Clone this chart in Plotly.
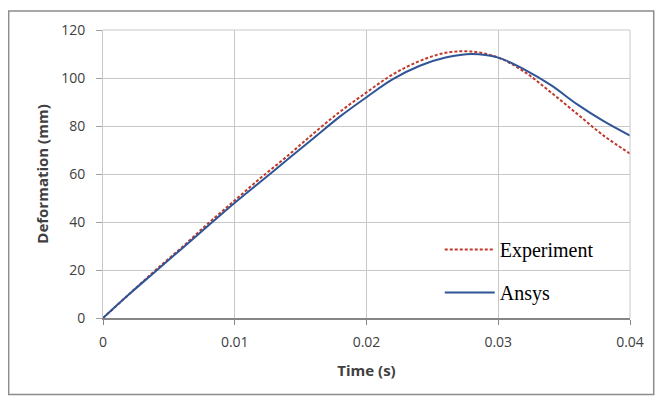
import plotly.graph_objects as go

time_s = [0, 0.002, 0.004, 0.006, 0.008, 0.010, 0.012, 0.014, 0.016, 0.018, 0.020,
          0.022, 0.024, 0.026, 0.028, 0.030, 0.032, 0.034, 0.036, 0.038, 0.040]
ansys = [0, 10, 19.5, 29, 38.5, 48, 57, 66, 75, 84, 92,
         99.5, 105, 108.5, 110, 108.5, 103.5, 97, 89, 82, 76]
experiment = [0, 10, 20, 29.5, 39.5, 49, 58.5, 67.5, 77, 86, 94,
              101.5, 107, 110.5, 111, 108.5, 102.5, 94, 85, 76, 68.5]

x_ticks = [0, 0.01, 0.02, 0.03, 0.04]
x_labels = ["0", "0.01", "0.02", "0.03", "0.04"]
y_ticks = [0, 20, 40, 60, 80, 100, 120]

fig = go.Figure()
fig.add_trace(go.Scatter(x=time_s, y=experiment, name="Experiment", mode="lines",
                         legendgroup="e",
                         line=dict(color="#C0392B", width=2, dash="3px,2px", shape="spline")))
fig.add_trace(go.Scatter(x=time_s, y=ansys, name="Ansys", mode="lines",
                         legendgroup="a",
                         line=dict(color="#2F5597", width=2, shape="spline")))

axis_font = dict(family="Open Sans, Liberation Sans, sans-serif", size=14, color="#404040")
title_font = dict(family="Open Sans, sans-serif", size=15, color="#404040")
fig.update_layout(
    width=655, height=395,
    margin=dict(l=95, r=33, t=20, b=85),
    paper_bgcolor="white", plot_bgcolor="white",
    showlegend=True,
    legend=dict(x=0.639, y=0.163, xanchor="left", yanchor="middle",
                font=dict(family="Liberation Serif, Times New Roman, serif", size=20, color="black"),
                bgcolor="rgba(0,0,0,0)", tracegroupgap=14, itemwidth=50),
    xaxis=dict(range=[0, 0.04], tickvals=x_ticks, ticktext=x_labels, showgrid=True,
               gridcolor="#C8C8C8", gridwidth=1, zeroline=False,
               showline=True, linecolor="#868686", linewidth=1.5,
               ticks="outside", ticklen=5, tickcolor="#868686",
               ticklabelstandoff=5,
               tickfont=axis_font,
               title=dict(text="<b>Time (s)</b>", font=title_font, standoff=16)),
    yaxis=dict(range=[0, 120], tickvals=y_ticks, showgrid=True,
               gridcolor="#C8C8C8", gridwidth=1, zeroline=False,
               showline=True, linecolor="#C8C8C8", linewidth=1,
               ticks="outside", ticklen=6, tickcolor="#A0A0A0",
               ticklabelstandoff=8,
               tickfont=axis_font,
               title=dict(text="<b>Deformation (mm)</b>", font=title_font, standoff=8)),
    shapes=[dict(type="rect", xref="paper", yref="paper",
                 x0=-0.179, x1=1.045, y0=-0.266, y1=1.066,
                 line=dict(color="#8C8C8C", width=1.5), layer="below"),
            dict(type="line", xref="paper", yref="paper", x0=1, x1=1, y0=0, y1=1,
                 line=dict(color="#C8C8C8", width=1)),
            dict(type="line", xref="paper", yref="paper", x0=0, x1=1, y0=1, y1=1,
                 line=dict(color="#C8C8C8", width=1))],
)
fig.write_html("out.html")
